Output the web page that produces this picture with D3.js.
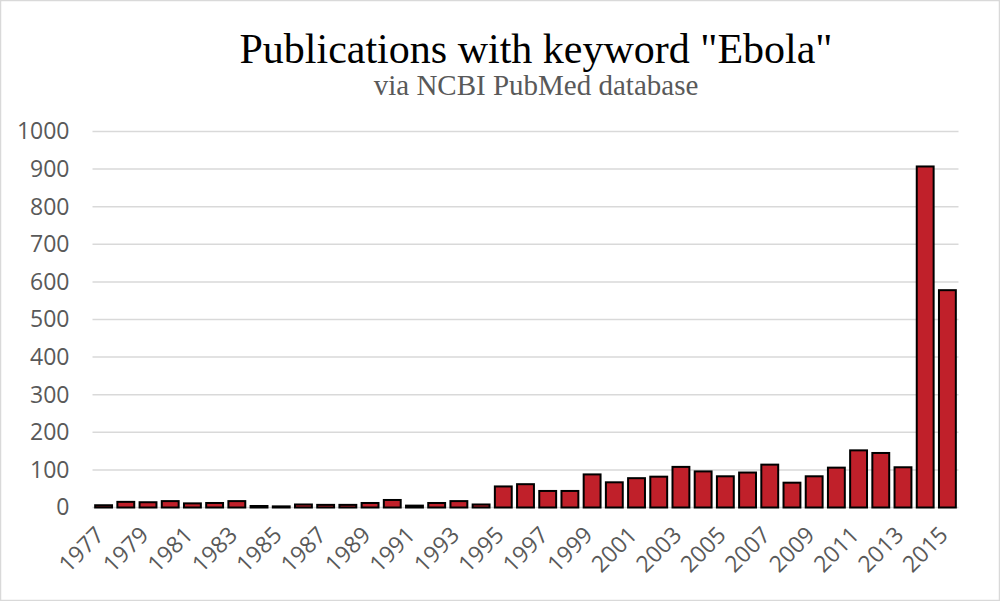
<!DOCTYPE html>
<html><head><meta charset="utf-8">
<script src="https://cdn.jsdelivr.net/npm/d3@7"></script>
<style>body{margin:0;background:#fff}</style>
</head><body>
<svg id="c" width="1000" height="601"></svg>
<script>
const years = d3.range(1977, 2016).map(String);
const counts = [6,15,14,17,11,12,17,4,3,8,7,7,12,20,5,12,17,8,56,62,44,44,88,67,78,82,108,96,83,93,114,66,83,106,152,145,107,907,578];
const yTicks = [0,100,200,300,400,500,600,700,800,900,1000];
const xTickLabels = years.filter((d,i)=>i%2===0);

const svg = d3.select('#c');
svg.append('rect').attr('x',0.5).attr('y',0.5).attr('width',999).attr('height',600)
  .attr('fill','#fff').attr('stroke','#d9d9d9').attr('stroke-width',1.5);

const m = {left:92.5, right:958.5, top:131.5, bottom:507.5};
const x = d3.scaleBand().domain(years).range([m.left, m.right]).paddingInner(0.24).paddingOuter(0.12);
const y = d3.scaleLinear().domain([0,1000]).range([m.bottom, m.top]);

const grid = svg.append('g');
grid.selectAll('line').data(yTicks).join('line')
  .attr('x1',m.left).attr('x2',m.right)
  .attr('y1',d=>y(d)).attr('y2',d=>y(d))
  .attr('stroke','#d9d9d9').attr('stroke-width',1.5);

const font = 'Open Sans, Liberation Sans, Arial, sans-serif';
const yAxis = svg.append('g').attr('transform',`translate(${m.left},0)`)
  .call(d3.axisLeft(y).tickValues(yTicks).tickFormat(d3.format('d')).tickSize(0).tickPadding(23));
yAxis.select('.domain').remove();
yAxis.selectAll('text').attr('font-family',font)
  .attr('font-size',23).attr('fill','#595959');

svg.append('g').selectAll('rect').data(counts).join('rect')
  .attr('x',(d,i)=>x(years[i])).attr('width',x.bandwidth())
  .attr('y',d=>y(d)).attr('height',d=>y(0)-y(d))
  .attr('fill','#C0202A').attr('stroke','#000').attr('stroke-width',2);

const xAxis = svg.append('g').attr('transform',`translate(0,${m.bottom})`)
  .call(d3.axisBottom(x).tickValues(xTickLabels).tickSize(0).tickPadding(0));
xAxis.select('.domain').remove();
xAxis.selectAll('text')
  .attr('font-family',font)
  .attr('font-size',23).attr('fill','#595959')
  .attr('text-anchor','end').attr('dy',0)
  .attr('transform','translate(2,29) rotate(-45)');

svg.append('text').attr('x',536).attr('y',63).attr('text-anchor','middle')
  .attr('font-family','Liberation Serif, Times New Roman, serif').attr('font-size',42)
  .attr('fill','#000').text('Publications with keyword "Ebola"');
svg.append('text').attr('x',536).attr('y',95).attr('text-anchor','middle')
  .attr('font-family','Liberation Serif, Times New Roman, serif').attr('font-size',29)
  .attr('fill','#595959').text('via NCBI PubMed database');
</script>
</body></html>
